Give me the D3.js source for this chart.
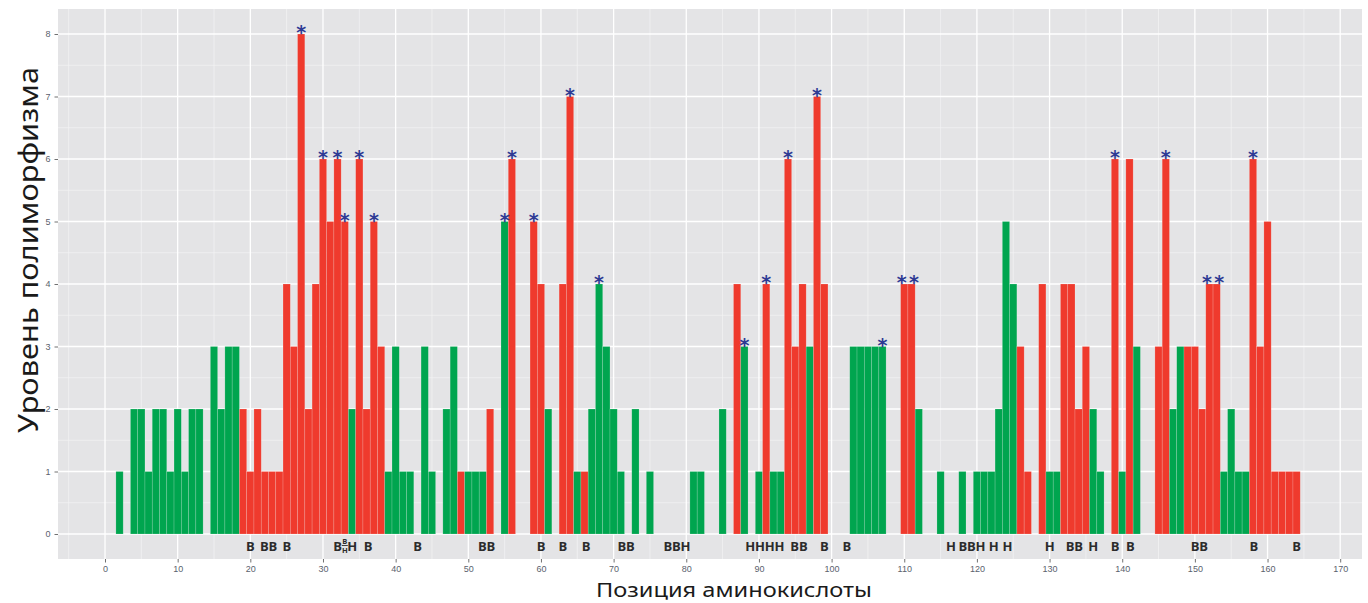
<!DOCTYPE html>
<html>
<head>
<meta charset="utf-8">
<script src="https://cdn.jsdelivr.net/npm/d3@7"></script>
<style>
  body { margin: 0; background: #fff; }
  svg { display: block; }
</style>
</head>
<body>
<svg id="chart"></svg>
<script>
// Polymorphism level for amino acid positions 1..164 (0 = no bar)
const levels = [
  0, 1, 0, 2, 2, 1, 2, 2, 1, 2, 1, 2, 2, 0, 3, 2, 3, 3, 2, 1,
  2, 1, 1, 1, 4, 3, 8, 2, 4, 6, 5, 6, 5, 2, 6, 2, 5, 3, 1, 3,
  1, 1, 0, 3, 1, 0, 2, 3, 1, 1, 1, 1, 2, 0, 5, 6, 0, 0, 5, 4,
  2, 0, 4, 7, 1, 1, 2, 4, 3, 2, 1, 0, 2, 0, 1, 0, 0, 0, 0, 0,
  1, 1, 0, 0, 2, 0, 4, 3, 0, 1, 4, 1, 1, 6, 3, 4, 3, 7, 4, 0,
  0, 0, 3, 3, 3, 3, 3, 0, 0, 4, 4, 2, 0, 0, 1, 0, 0, 1, 0, 1,
  1, 1, 2, 5, 4, 3, 1, 0, 4, 1, 1, 4, 4, 2, 3, 2, 1, 0, 6, 1,
  6, 3, 0, 0, 3, 6, 2, 3, 3, 3, 2, 4, 4, 1, 2, 1, 1, 6, 3, 5, 1, 1, 1, 1,
];

// bar colour group per position: g = green, r = red, - = none
const groups = (
  "-g-gggggggggg-ggggrr" +
  "rrrrrrrrrrrrrgrrrrgg" +
  "gg-gg-ggrgggr-gr--rr" +
  "g-rrgrggggg-g-g-----" +
  "gg--g-rg-grggrrrgrr-" +
  "--ggggg--rrg--g--g-g" +
  "gggggrr-rggrrrrgg-rg" +
  "rg--rrggrrrrrggggrrrrrrr"
).split("");

// positions marked with an asterisk
const starred = [27, 30, 32, 33, 35, 37, 55, 56, 59, 64, 68, 88, 91, 94, 98,
  107, 110, 111, 139, 146, 152, 153, 158];

// letter annotations under the bars
const labelPos = [20, 22.5, 25, 32, 33, 34, 36.2, 43, 52.5, 60, 63, 66.2, 71.7,
  78.7, 90.8, 95.5, 99, 102.1, 116.4, 119.3, 122.3, 124.2, 130, 133.4, 136, 139,
  141.1, 150.6, 158.1, 164];
const labelText = ["B", "BB", "B", "B", "B/H", "H", "B", "B", "BB", "B", "B", "B",
  "BB", "BBH", "HHHH", "BB", "B", "B", "H", "BBH", "H", "H", "H", "BB", "H", "B",
  "B", "BB", "B", "B"];

const xTicks = [0, 10, 20, 30, 40, 50, 60, 70, 80, 90, 100, 110, 120, 130, 140, 150, 160, 170];
const xMinor = [-5, 5, 15, 25, 35, 45, 55, 65, 75, 85, 95, 105, 115, 125, 135, 145, 155, 165];
const yTicks = [0, 1, 2, 3, 4, 5, 6, 7, 8];
const yMinor = [0.5, 1.5, 2.5, 3.5, 4.5, 5.5, 6.5, 7.5];

const colorMap = { g: "#00a54f", r: "#ef3a2d" };

const W = 1368, H = 603;
const panel = { left: 58, right: 1362, top: 9, bottom: 559 };

const svg = d3.select("#chart").attr("width", W).attr("height", H);

const x = d3.scaleLinear().domain([-6.47, 173]).range([panel.left, panel.right]);
const y = d3.scaleLinear().domain([-0.4, 8.4]).range([panel.bottom, panel.top]);

// panel background
svg.append("rect")
  .attr("x", panel.left).attr("y", panel.top)
  .attr("width", panel.right - panel.left)
  .attr("height", panel.bottom - panel.top)
  .attr("fill", "#e4e4e6");

// grid
const grid = svg.append("g");
grid.selectAll("line.xmin").data(xMinor).join("line")
  .attr("x1", (d) => x(d)).attr("x2", (d) => x(d))
  .attr("y1", panel.top).attr("y2", panel.bottom)
  .attr("stroke", "#f4f4f5").attr("stroke-width", 0.7);
grid.selectAll("line.ymin").data(yMinor).join("line")
  .attr("y1", (d) => y(d)).attr("y2", (d) => y(d))
  .attr("x1", panel.left).attr("x2", panel.right)
  .attr("stroke", "#f4f4f5").attr("stroke-width", 0.7);
grid.selectAll("line.xmaj").data(xTicks).join("line")
  .attr("x1", (d) => x(d)).attr("x2", (d) => x(d))
  .attr("y1", panel.top).attr("y2", panel.bottom)
  .attr("stroke", "#fff").attr("stroke-width", 1.3);
grid.selectAll("line.ymaj").data(yTicks).join("line")
  .attr("y1", (d) => y(d)).attr("y2", (d) => y(d))
  .attr("x1", panel.left).attr("x2", panel.right)
  .attr("stroke", "#fff").attr("stroke-width", 1.3);

// bars
const bars = levels
  .map((v, i) => ({ pos: i + 1, value: v, group: groups[i] }))
  .filter((d) => d.value > 0);

svg.append("g")
  .selectAll("rect")
  .data(bars)
  .join("rect")
  .attr("x", (d) => x(d.pos - 0.5))
  .attr("y", (d) => y(d.value))
  .attr("width", (d) => x(d.pos + 0.5) - x(d.pos - 0.5))
  .attr("height", (d) => y(0) - y(d.value))
  .attr("fill", (d) => colorMap[d.group])
  .attr("stroke", "rgba(255,255,255,0.28)")
  .attr("stroke-width", 0.6);

// asterisks - spread apart neighbours that sit at the same height
function starNudge(p) {
  const same = (q) => starred.includes(q) && levels[q - 1] === levels[p - 1];
  if (same(p + 1)) return -2.5;
  if (same(p - 1)) return 2.5;
  return 0;
}

svg.append("g")
  .selectAll("text")
  .data(starred)
  .join("text")
  .attr("x", (d) => x(d) + starNudge(d))
  .attr("y", (d) => y(levels[d - 1]) + 5)
  .attr("text-anchor", "middle")
  .attr("font-family", "DejaVu Sans")
  .attr("font-weight", "bold")
  .attr("font-size", "19px")
  .attr("fill", "#2e3a94")
  .text("*");

// letter annotations
const ann = svg.append("g")
  .attr("font-family", "'Open Sans', sans-serif")
  .attr("font-weight", 700)
  .attr("fill", "#2b2b2b");

labelPos.forEach((p, i) => {
  const t = labelText[i];
  if (t === "B/H") {
    ann.append("text").attr("x", x(p)).attr("y", 543.5)
      .attr("text-anchor", "middle").attr("font-size", "7.5px").text("B");
    ann.append("line")
      .attr("x1", x(p) - 3).attr("x2", x(p) + 3)
      .attr("y1", 545.5).attr("y2", 545.5)
      .attr("stroke", "#2b2b2b").attr("stroke-width", 0.9);
    ann.append("text").attr("x", x(p)).attr("y", 553)
      .attr("text-anchor", "middle").attr("font-size", "7.5px").text("H");
  } else {
    ann.append("text").attr("x", x(p)).attr("y", 550.5)
      .attr("text-anchor", "middle").attr("font-size", "13px")
      .attr("letter-spacing", "-0.2px")
      .text(t);
  }
});

// axes
const xAxis = svg.append("g")
  .attr("transform", `translate(0,${panel.bottom})`)
  .call(d3.axisBottom(x).tickValues(xTicks).tickSize(3.5).tickPadding(3));
const yAxis = svg.append("g")
  .attr("transform", `translate(${panel.left},0)`)
  .call(d3.axisLeft(y).tickValues(yTicks).tickSize(3.5).tickPadding(4));

[xAxis, yAxis].forEach((a) => {
  a.select(".domain").remove();
  a.selectAll(".tick line").attr("stroke", "#4d4d4d").attr("stroke-width", 0.8);
  a.selectAll(".tick text")
    .attr("fill", "#5a5f6e")
    .attr("font-family", "'Liberation Sans', Arial, sans-serif")
    .attr("font-size", "9px");
});

// axis titles
svg.append("text")
  .attr("x", 734)
  .attr("y", 597)
  .attr("text-anchor", "middle")
  .attr("font-family", "'Noto Sans', sans-serif")
  .attr("font-size", "20px")
  .attr("fill", "#1a1a1a")
  .attr("textLength", 276)
  .attr("lengthAdjust", "spacingAndGlyphs")
  .text("Позиция аминокислоты");

svg.append("text")
  .attr("transform", "translate(38,250) rotate(-90)")
  .attr("text-anchor", "middle")
  .attr("font-family", "'Noto Sans', sans-serif")
  .attr("font-size", "27px")
  .attr("fill", "#1a1a1a")
  .attr("textLength", 366)
  .attr("lengthAdjust", "spacingAndGlyphs")
  .text("Уровень полиморфизма");
</script>
</body>
</html>
